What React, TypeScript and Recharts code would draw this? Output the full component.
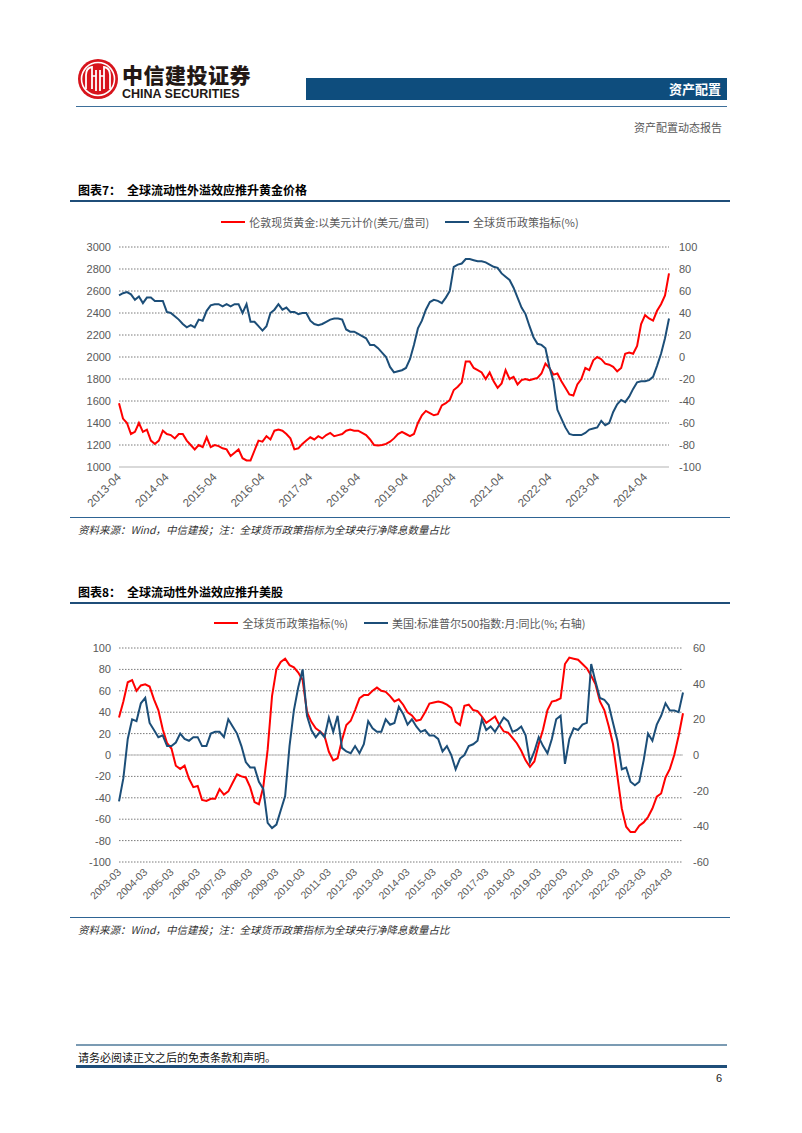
import React from "react";
import { LineChart, Line, XAxis, YAxis, CartesianGrid, ReferenceLine } from "recharts";

// ---------- Chart 7: gold vs global monetary policy index (monthly, 2013-04 .. 2024-10)
const goldSeries = [
  1580, 1440, 1400, 1300, 1320, 1400, 1320, 1340, 1240, 1210, 1240, 1330,
  1300, 1290, 1260, 1300, 1300, 1240, 1200, 1160, 1200, 1180, 1270, 1180,
  1200, 1190, 1170, 1160, 1100, 1130, 1160, 1080, 1060, 1060, 1150, 1240,
  1230, 1280, 1250, 1330, 1340, 1330, 1300, 1260, 1160, 1170, 1210, 1240,
  1270, 1250, 1280, 1260, 1290, 1310, 1280, 1290, 1300, 1330, 1340, 1330,
  1330, 1310, 1290, 1250, 1200, 1195, 1200, 1210, 1230, 1260, 1300, 1320,
  1300, 1280, 1300, 1400, 1470, 1510, 1490, 1470, 1480, 1560, 1580, 1610,
  1700, 1730, 1770, 1960, 1960, 1900, 1880, 1860, 1800, 1860, 1780, 1720,
  1760, 1880, 1800, 1820, 1750, 1790, 1800, 1790, 1800, 1810, 1850, 1940,
  1900, 1840, 1850, 1780, 1720, 1660, 1650, 1750, 1800, 1900, 1880, 1970,
  2000, 1980, 1940, 1930, 1910, 1870, 1900, 2030, 2040, 2030, 2100, 2300,
  2380, 2350, 2330, 2420, 2480, 2560, 2760,
];
const policySeries1 = [
  56, 58, 59, 57, 52, 55, 49, 54, 54, 51, 51, 51,
  41, 40, 37, 34, 30, 27, 29, 27, 34, 33, 42, 47,
  48, 48, 46, 48, 46, 48, 48, 40, 48, 32, 32, 28,
  24, 28, 40, 43, 48, 43, 45, 41, 41, 39, 40, 40,
  33, 30, 29, 30, 32, 34, 35, 35, 34, 25, 23, 23,
  21, 19, 17, 11, 11, 8, 4, 0, -9, -14, -13, -12,
  -10, -2, 11, 26, 33, 43, 50, 52, 51, 49, 54, 60,
  82, 84, 85, 89, 89, 88, 87, 87, 86, 84, 82, 81,
  76, 73, 70, 63, 54, 45, 39, 28, 18, 12, 11, 8,
  -9, -22, -48, -56, -64, -70, -71, -71, -71, -69, -66, -65,
  -64, -58, -62, -60, -50, -43, -39, -41, -36, -29, -23, -22,
  -22, -21, -18, -8, 3, 17, 35,
];
const xTicks1 = [
  "2013-04", "2014-04", "2015-04", "2016-04", "2017-04", "2018-04",
  "2019-04", "2020-04", "2021-04", "2022-04", "2023-04", "2024-04",
];
const leftTicks1 = [1000, 1200, 1400, 1600, 1800, 2000, 2200, 2400, 2600, 2800, 3000];
const rightTicks1 = [-100, -80, -60, -40, -20, 0, 20, 40, 60, 80, 100];

// ---------- Chart 8: policy index vs S&P 500 YoY (bi-monthly, 2003-03 .. 2024-09)
const policySeries2 = [
  35, 50, 68, 70, 60, 65, 66, 64, 52, 42,
  24, 11, 6, -10, -13, -10, -22, -30, -29, -42,
  -43, -41, -41, -32, -37, -34, -26, -18, -20, -21,
  -30, -44, -46, -30, 5, 55, 80, 87, 90, 84,
  82, 77, 70, 40, 31, 25, 22, 18, 3, -5,
  -3, 14, 28, 32, 42, 53, 56, 56, 60, 63,
  60, 59, 55, 50, 52, 47, 40, 37, 32, 33,
  40, 48, 49, 50, 49, 47, 44, 31, 28, 46,
  47, 42, 41, 36, 30, 33, 36, 28, 22, 21,
  16, 11, 4, -5, -11, -6, 10, 24, 42, 50,
  51, 53, 85, 91, 90, 89, 85, 81, 74, 66,
  50, 42, 27, 10, -20, -50, -67, -72, -72, -66,
  -63, -58, -50, -39, -36, -21, -13, 0, 18, 39,
];
const spxYoYSeries = [
  -26, -13, 9, 20, 19, 29, 32, 18, 14, 10,
  11, 5, 5, 7, 12, 9, 8, 10, 10, 5,
  5, 12, 13, 13, 10, 20, 16, 12, 5, -4,
  -7, -7, -15, -19, -38, -41, -39, -31, -23, 5,
  25, 38, 48, 22, 14, 10, 13, 10, 21, 13,
  22, 4, 2, 1, 5, 1, 6, 19, 15, 13,
  13, 20, 17, 18, 27, 23, 17, 20, 16, 13,
  14, 11, 11, 9, 2, 5, 0, -8, -2, 0,
  5, 6, 8, 20, 14, 16, 13, 17, 21, 19,
  13, 14, 16, 11, -4, 2, 10, 5, 1, 9,
  20, 22, -5, 9, 15, 14, 17, 18, 51, 41,
  32, 31, 28, 18, 8, -8, -7, -15, -17, -15,
  -3, 12, 8, 17, 22, 29, 25, 25, 24, 35,
];
const xTicks2 = [
  "2003-03", "2004-03", "2005-03", "2006-03", "2007-03", "2008-03", "2009-03", "2010-03",
  "2011-03", "2012-03", "2013-03", "2014-03", "2015-03", "2016-03", "2017-03", "2018-03",
  "2019-03", "2020-03", "2021-03", "2022-03", "2023-03", "2024-03",
];
const leftTicks2 = [-100, -80, -60, -40, -20, 0, 20, 40, 60, 80, 100];
const rightTicks2 = [-60, -40, -20, 0, 20, 40, 60];

// ---------- texts
const header = {
  cn: "中信建投证券",
  en: "CHINA SECURITIES",
  section: "资产配置",
  report: "资产配置动态报告",
};
const title7 = ["图表7：", "全球流动性外溢效应推升黄金价格"];
const title8 = ["图表8：", "全球流动性外溢效应推升美股"];
const legend7 = ["伦敦现货黄金:以美元计价(美元/盘司)", "全球货币政策指标(%)"];
const legend8 = ["全球货币政策指标(%)", "美国:标准普尔500指数:月:同比(%; 右轴)"];
const sourceText = "资料来源：Wind，中信建投；注：全球货币政策指标为全球央行净降息数量占比";
const footerText = "请务必阅读正文之后的免责条款和声明。";
const pageNo = "6";

// ---------- helpers
function monthLabels(y0: number, m0: number, n: number, step: number): string[] {
  const out: string[] = [];
  for (let i = 0; i < n; i++) {
    const t = (y0 * 12 + (m0 - 1)) + i * step;
    const y = Math.floor(t / 12);
    const m = (t % 12) + 1;
    out.push(`${y}-${m < 10 ? "0" + m : m}`);
  }
  return out;
}

const dates1 = monthLabels(2013, 4, goldSeries.length, 1);
const dates2 = monthLabels(2003, 3, policySeries2.length, 2);
const data1 = dates1.map((d, i) => ({ i, date: d, gold: goldSeries[i], policy: policySeries1[i] }));
const data2 = dates2.map((d, i) => ({ i, date: d, policy: policySeries2[i], spx: spxYoYSeries[i] }));
const tickIdx1 = xTicks1.map((t) => dates1.indexOf(t));
const tickIdx2 = xTicks2.map((t) => dates2.indexOf(t));

const RED = "#ff0000";
const BLUE = "#1c4e78";
const NAVY = "#1f4e79";
const AXIS_FONT = "'Liberation Sans', Arial, sans-serif";
const CJK = "'Noto Sans CJK SC', 'Noto Sans', sans-serif";

const makeRotTick = (labels: string[], fs: number) => (props: any) => {
  const { x, y, payload } = props;
  const lab = labels[payload.value] ?? "";
  return (
    <text
      x={x}
      y={y}
      transform={`rotate(-45 ${x} ${y})`}
      textAnchor="end"
      fontSize={fs}
      fill="#595959"
      fontFamily={AXIS_FONT}
      dy={4}
    >
      {lab}
    </text>
  );
};

const axisTick = { fontSize: 11, fill: "#595959", fontFamily: AXIS_FONT };

function LegendItem({ color, text, lineW }: { color: string; text: string; lineW: number }) {
  return (
    <span style={{ display: "inline-flex", alignItems: "center", marginRight: 16 }}>
      <span style={{ display: "inline-block", width: lineW, height: 2.5, background: color, marginRight: 4 }} />
      <span style={{ fontSize: 11, color: "#595959", fontFamily: CJK }}>{text}</span>
    </span>
  );
}

function Logo() {
  return (
    <svg width={42} height={42} viewBox="0 0 42 42" style={{ position: "absolute", left: 77, top: 58 }}>
      <circle cx={21} cy={21} r={20} fill="#d7141c" />
      <circle cx={21} cy={21} r={16.5} fill="none" stroke="#fff" strokeWidth={1.6} />
      <path d="M9 31 V17 Q9 10 15 9 V31" fill="none" stroke="#fff" strokeWidth={1.8} />
      <path d="M33 31 V17 Q33 10 27 9 V31" fill="none" stroke="#fff" strokeWidth={1.8} />
      <path d="M19 33 V12 M23 33 V12" fill="none" stroke="#fff" strokeWidth={1.8} />
      <path d="M15 18 H19 M23 18 H27" fill="none" stroke="#fff" strokeWidth={1.4} />
    </svg>
  );
}

export default function App() {
  return (
    <div
      style={{
        position: "absolute",
        left: 0,
        top: 0,
        width: 802,
        height: 1133,
        background: "#fff",
        fontFamily: CJK,
        overflow: "hidden",
      }}
    >
      {/* Header */}
      <Logo />
      <div style={{ position: "absolute", left: 122, top: 62, fontSize: 21, fontWeight: 900, color: "#231815", letterSpacing: 0.5, lineHeight: "24px" }}>
        {header.cn}
      </div>
      <div style={{ position: "absolute", left: 122, top: 87, fontSize: 12.5, fontWeight: 700, color: "#231815", fontFamily: AXIS_FONT, lineHeight: "14px" }}>
        {header.en}
      </div>
      <div
        style={{
          position: "absolute",
          left: 306,
          top: 78,
          width: 421,
          height: 22,
          background: "#0e4d7d",
          color: "#fff",
          fontSize: 13,
          fontWeight: 700,
          textAlign: "right",
          lineHeight: "22px",
          boxSizing: "border-box",
          paddingRight: 6,
        }}
      >
        {header.section}
      </div>
      <div style={{ position: "absolute", left: 76, top: 106, width: 651, height: 1, background: "#3d6f9a" }} />
      <div style={{ position: "absolute", right: 80, top: 119, fontSize: 11, color: "#595959" }}>{header.report}</div>

      {/* Chart 7 title */}
      <div style={{ position: "absolute", left: 78, top: 182, fontSize: 12, fontWeight: 700, color: "#000", lineHeight: "16px", whiteSpace: "nowrap" }}>
        <span style={{ display: "inline-block", width: 49 }}>{title7[0]}</span>
        {title7[1]}
      </div>
      <div style={{ position: "absolute", left: 70, top: 200, width: 660, height: 2, background: NAVY }} />
      <div style={{ position: "absolute", left: 70, top: 208, width: 660, textAlign: "center", lineHeight: "16px", paddingLeft: 16, boxSizing: "border-box" }}>
        <LegendItem color={RED} text={legend7[0]} lineW={24} />
        <LegendItem color={BLUE} text={legend7[1]} lineW={24} />
      </div>

      <div style={{ position: "absolute", left: 70, top: 205 }}>
        <LineChart width={660} height={312} data={data1} margin={{ top: 42, right: 0, bottom: 0, left: 0 }}>
          <CartesianGrid yAxisId="left" vertical={false} stroke="#7a7a7a" strokeDasharray="1.5 1.5" />
          <XAxis
            dataKey="i"
            type="number"
            domain={[0, goldSeries.length - 1]}
            ticks={tickIdx1}
            interval={0}
            height={50}
            tickLine={false}
            axisLine={{ stroke: "#d9d9d9", strokeWidth: 2 }}
            tick={makeRotTick(dates1, 11.5)}
          />
          <YAxis
            yAxisId="left"
            width={49}
            domain={[1000, 3000]}
            ticks={leftTicks1}
            interval={0}
            tickLine={false}
            axisLine={false}
            tick={axisTick}
          />
          <YAxis
            yAxisId="right"
            orientation="right"
            width={61}
            domain={[-100, 100]}
            ticks={rightTicks1}
            interval={0}
            tickLine={false}
            axisLine={false}
            tick={{ ...axisTick, textAnchor: "start" }}
            tickMargin={4}
          />
          <Line yAxisId="left" dataKey="gold" stroke={RED} strokeWidth={2} dot={false} isAnimationActive={false} type="linear" />
          <Line yAxisId="right" dataKey="policy" stroke={BLUE} strokeWidth={2} dot={false} isAnimationActive={false} type="linear" />
        </LineChart>
      </div>

      <div style={{ position: "absolute", left: 70, top: 517, width: 660, height: 1, background: "#2e6494" }} />
      <div style={{ position: "absolute", left: 78, top: 522, fontSize: 10.5, fontStyle: "italic", color: "#333", whiteSpace: "nowrap" }}>
        {sourceText}
      </div>

      {/* Chart 8 title */}
      <div style={{ position: "absolute", left: 78, top: 584, fontSize: 12, fontWeight: 700, color: "#000", lineHeight: "16px", whiteSpace: "nowrap" }}>
        <span style={{ display: "inline-block", width: 49 }}>{title8[0]}</span>
        {title8[1]}
      </div>
      <div style={{ position: "absolute", left: 70, top: 602, width: 660, height: 2, background: NAVY }} />
      <div style={{ position: "absolute", left: 70, top: 609, width: 660, textAlign: "center", lineHeight: "16px", paddingLeft: 16, boxSizing: "border-box" }}>
        <LegendItem color={RED} text={legend8[0]} lineW={24} />
        <LegendItem color={BLUE} text={legend8[1]} lineW={24} />
      </div>

      <div style={{ position: "absolute", left: 70, top: 606 }}>
        <LineChart width={660} height={306} data={data2} margin={{ top: 42, right: 0, bottom: 0, left: 0 }}>
          <CartesianGrid yAxisId="left" vertical={false} stroke="#7a7a7a" strokeDasharray="1.5 1.5" />
          <XAxis
            dataKey="i"
            type="number"
            domain={[0, policySeries2.length - 1]}
            ticks={tickIdx2}
            interval={0}
            height={50}
            tickLine={false}
            axisLine={false}
            tick={makeRotTick(dates2, 10.5)}
          />
          <YAxis
            yAxisId="left"
            width={49}
            domain={[-100, 100]}
            ticks={leftTicks2}
            interval={0}
            tickLine={false}
            axisLine={false}
            tick={axisTick}
          />
          <YAxis
            yAxisId="right"
            orientation="right"
            width={47}
            domain={[-60, 60]}
            ticks={rightTicks2}
            interval={0}
            tickLine={false}
            axisLine={false}
            tick={{ ...axisTick, textAnchor: "start" }}
            tickMargin={4}
          />
          <ReferenceLine yAxisId="left" y={0} stroke="#d0d0d0" strokeWidth={1.5} />
          <Line yAxisId="left" dataKey="policy" stroke={RED} strokeWidth={2} dot={false} isAnimationActive={false} type="linear" />
          <Line yAxisId="right" dataKey="spx" stroke={BLUE} strokeWidth={2} dot={false} isAnimationActive={false} type="linear" />
        </LineChart>
      </div>

      <div style={{ position: "absolute", left: 70, top: 917, width: 660, height: 1, background: "#2e6494" }} />
      <div style={{ position: "absolute", left: 78, top: 922, fontSize: 10.5, fontStyle: "italic", color: "#333", whiteSpace: "nowrap" }}>
        {sourceText}
      </div>

      {/* Footer */}
      <div style={{ position: "absolute", left: 76, top: 1044, width: 651, height: 2, background: "#7b9bb3" }} />
      <div style={{ position: "absolute", left: 78, top: 1049, fontSize: 11, color: "#111", whiteSpace: "nowrap", lineHeight: "16px" }}>
        {footerText}
      </div>
      <div style={{ position: "absolute", left: 76, top: 1065, width: 651, height: 2.5, background: NAVY }} />
      <div style={{ position: "absolute", left: 716, top: 1072, fontSize: 11, color: "#222", fontFamily: AXIS_FONT }}>{pageNo}</div>
    </div>
  );
}
